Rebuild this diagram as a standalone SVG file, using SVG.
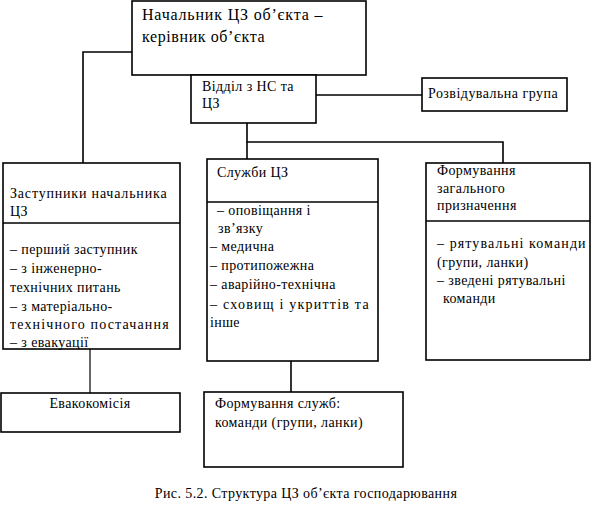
<svg xmlns="http://www.w3.org/2000/svg" width="592" height="516" viewBox="0 0 592 516" font-family="Liberation Serif, Times New Roman, serif">
<style>
.box{fill:#fff;stroke:#000;stroke-width:1.6}
.div{stroke:#000;stroke-width:1.6}
.ln{fill:none;stroke:#000;stroke-width:1.6}
.thin{fill:none;stroke:#000;stroke-width:1.2}
.t{font-size:14px;letter-spacing:0.4px;fill:#000}
.big{font-size:16px;letter-spacing:0.6px}
</style>
<rect width="592" height="516" fill="#fff"/>
<g id="connectors">
<polyline class="ln" points="132,52 83,52 83,163"/>
<line class="ln" x1="316" y1="95" x2="422" y2="95"/>
<polyline class="ln" points="247,123 247,142 503,142 503,163"/>
<line class="ln" x1="247" y1="142" x2="247" y2="159"/>
<line class="thin" x1="90" y1="349" x2="90" y2="393"/>
<line class="ln" x1="291" y1="361" x2="291" y2="392"/>
</g>
<g id="head" class="t">
<rect class="box" x="132" y="1" width="234" height="74"/>
<text class="big" x="142" y="20" textLength="181" lengthAdjust="spacing">Начальник ЦЗ об’єкта –</text>
<text class="big" x="142" y="42">керівник об’єкта</text>
</g>
<g id="viddil" class="t">
<rect class="box" x="191" y="75" width="125" height="48"/>
<text x="202" y="91">Відділ з НС та</text>
<text x="202" y="108">ЦЗ</text>
</g>
<g id="rozvid" class="t">
<rect class="box" x="422" y="78" width="145" height="33"/>
<text x="428" y="98" textLength="130" lengthAdjust="spacing">Розвідувальна група</text>
</g>
<g id="zastupnyky" class="t">
<rect class="box" x="3" y="163" width="177" height="186"/>
<line class="div" x1="3" y1="223" x2="180" y2="223"/>
<text x="10" y="198" textLength="157" lengthAdjust="spacing">Заступники начальника</text>
<text x="10" y="216">ЦЗ</text>
<text x="10" y="254">– перший заступник</text>
<text x="10" y="273">– з інженерно-</text>
<text x="10" y="292">технічних питань</text>
<text x="10" y="311">– з матеріально-</text>
<text x="10" y="329" textLength="159" lengthAdjust="spacing">технічного постачання</text>
<text x="10" y="347">– з евакуації</text>
</g>
<g id="sluzhby" class="t">
<rect class="box" x="207" y="159" width="171" height="202"/>
<line class="div" x1="207" y1="202" x2="378" y2="202"/>
<text x="217" y="177">Служби ЦЗ</text>
<text x="217" y="215">– оповіщання і</text>
<text x="218" y="233">зв’язку</text>
<text x="210" y="251">– медична</text>
<text x="210" y="270">– протипожежна</text>
<text x="210" y="289">– аварійно-технічна</text>
<text x="210" y="309" textLength="159" lengthAdjust="spacing">– сховищ і укриттів та</text>
<text x="210" y="327">інше</text>
</g>
<g id="formuvannia" class="t">
<rect class="box" x="426" y="163" width="164" height="197"/>
<line class="div" x1="426" y1="221" x2="590" y2="221"/>
<text x="437" y="175">Формування</text>
<text x="437" y="193">загального</text>
<text x="437" y="210">призначення</text>
<text x="437" y="248" textLength="149" lengthAdjust="spacing">– рятувальні команди</text>
<text x="437" y="267">(групи, ланки)</text>
<text x="437" y="285">– зведені рятувальні</text>
<text x="443" y="303">команди</text>
</g>
<g id="evakokomisia" class="t">
<rect class="box" x="1" y="393" width="179" height="39"/>
<text x="90" y="408" text-anchor="middle">Евакокомісія</text>
</g>
<g id="formuvannia-sluzhb" class="t">
<rect class="box" x="204" y="392" width="199" height="75"/>
<text x="215" y="408">Формування служб:</text>
<text x="215" y="427">команди (групи, ланки)</text>
</g>
<g id="caption" class="t">
<text x="306" y="498" text-anchor="middle">Рис. 5.2. Структура ЦЗ об’єкта господарювання</text>
</g>
</svg>
